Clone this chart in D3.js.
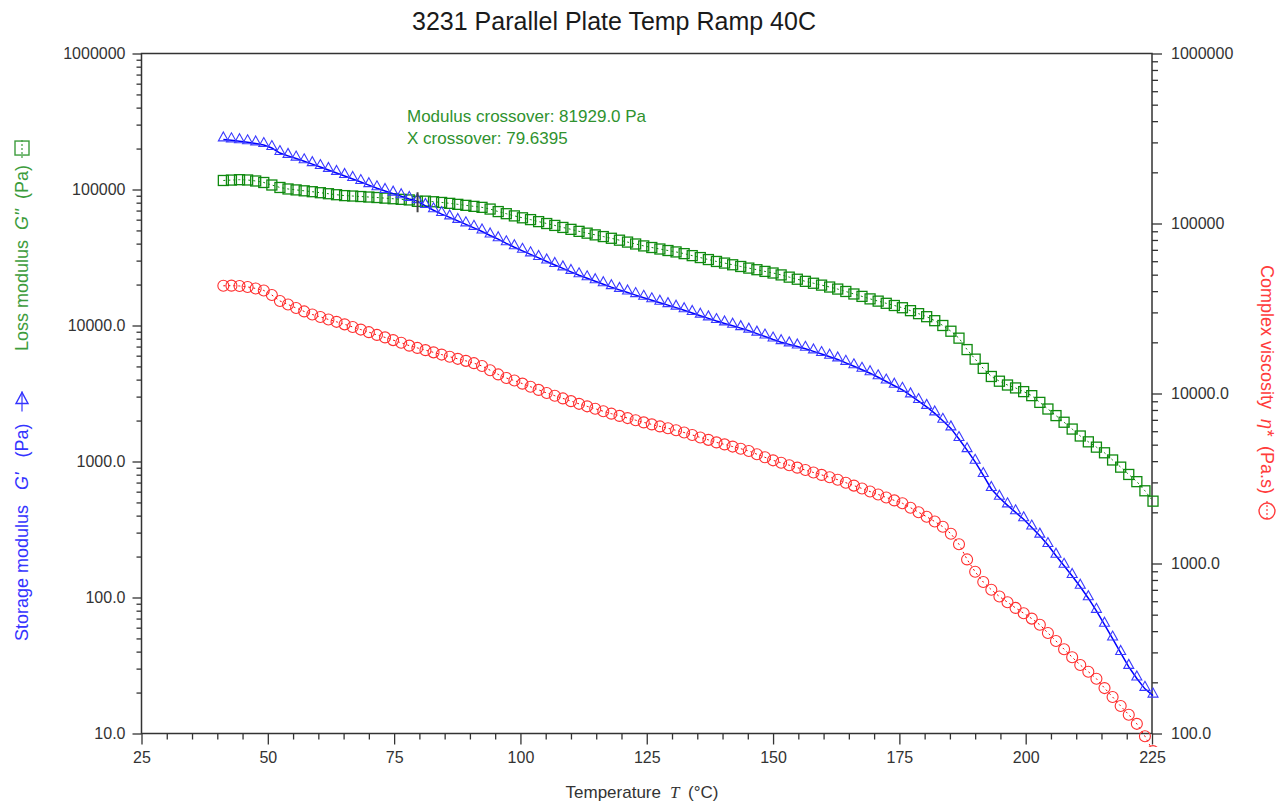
<!DOCTYPE html>
<html><head><meta charset="utf-8">
<script src="https://cdn.jsdelivr.net/npm/d3@7"></script>
<style>body{margin:0;background:#fff;} svg{display:block;} text{white-space:pre;}</style>
</head><body><svg id="c" width="1280" height="803"></svg>
<script>
const temperature = [41.2,42.8,44.4,46.0,47.6,49.2,50.8,52.4,54.0,55.6,57.2,58.8,60.4,62.0,63.6,65.2,66.8,68.4,70.0,71.6,
73.2,74.8,76.4,78.0,79.6,81.2,82.8,84.4,86.0,87.6,89.2,90.8,92.4,94.0,95.6,97.2,98.8,100.4,102.0,103.6,
105.2,106.8,108.4,110.0,111.6,113.2,114.8,116.4,118.0,119.6,121.2,122.8,124.4,126.0,127.6,129.2,130.8,132.4,134.0,135.6,
137.2,138.8,140.4,142.0,143.6,145.2,146.8,148.4,150.0,151.6,153.2,154.8,156.4,158.0,159.6,161.2,162.8,164.4,166.0,167.6,
169.2,170.8,172.4,174.0,175.6,177.2,178.8,180.4,182.0,183.6,185.2,186.8,188.4,190.0,191.6,193.2,194.8,196.4,198.0,199.6,
201.2,202.8,204.4,206.0,207.6,209.2,210.8,212.4,214.0,215.6,217.2,218.8,220.4,222.0,223.6,225.2];

const storageModulus = [233500,229900,226500,222300,218200,212300,201800,185300,176700,168800,
161200,153700,146300,139300,132400,125800,119500,113400,107600,102100,
97480,93270,89260,85240,82100,75680,70350,65970,62350,58750,
55450,52250,49140,45920,43120,40210,37640,35410,33360,31390,
29570,27860,26300,24780,23390,22230,21160,20110,19140,18280,
17490,16730,15990,15320,14710,14120,13530,12950,12370,11810,
11280,10790,10360,9966,9568,9171,8714,8294,7882,7541,
7266,7011,6742,6450,6171,5895,5631,5314,5015,4725,
4460,4161,3874,3607,3365,3064,2782,2521,2257,1993,
1752,1463,1212,995,795,628,542,476,423,376,
327,285,243,203,171,144,120,98.8,79.8,63.1,
49.9,39.1,30.9,25.4,21.3,19.0];

const lossModulus = [116500,117300,118100,117500,115500,112600,107900,103500,100900,99310,
97810,96340,94710,93110,91540,90160,89540,88780,88030,87300,
86400,85530,84670,83800,81800,82110,81280,80320,79100,77770,
76460,75160,73900,71800,68810,66400,63960,61930,60060,58050,
56210,54430,52600,50930,49230,47750,46380,45070,43780,42400,
41050,39750,38480,37450,36510,35590,34750,33760,32640,31590,
30540,29570,28770,27960,27160,26430,25720,24990,24320,23550,
22680,21890,21120,20450,19810,19180,18530,17790,17050,16370,
15690,15110,14560,14030,13510,12860,12220,11610,10850,10000,
9077,8072,6653,5659,4840,4218,3894,3651,3475,3264,
3049,2721,2432,2175,1944,1732,1540,1395,1275,1159,
1026,909,803,711,609,511];

const complexViscosity = [43000,43100,42900,42350,41500,40390,37940,35020,33390,31840,
30400,29150,28210,27270,26400,25510,24630,23770,22950,22110,
21380,20610,19870,19120,18540,17990,17460,16940,16450,15990,
15560,15080,14510,13710,12950,12330,11920,11430,10960,10500,
10070,9705,9356,9018,8694,8403,8135,7862,7609,7385,
7168,6966,6761,6580,6403,6240,6073,5894,5704,5513,
5337,5158,5020,4872,4735,4589,4395,4213,4044,3915,
3784,3663,3545,3431,3321,3215,3112,2988,2872,2761,
2650,2548,2446,2351,2261,2130,2002,1884,1765,1645,
1497,1298,1057,894,778,701,639,592,548,510,
474,436,390,350,313,281,253,231,210,185,
164,145,129,114,96.4,78.8];

const xTickValues = [25,50,75,100,125,150,175,200,225];
const leftTickValues = [10,100,1000,10000,100000,1000000];
const leftTickLabels = ["10.0","100.0","1000.0","10000.0","100000","1000000"];
const rightTickValues = [100,1000,10000,100000,1000000];
const rightTickLabels = ["100.0","1000.0","10000.0","100000","1000000"];
const crossoverModulus = 81929.0;
const crossoverTemperature = 79.6395;
const titleText = "3231 Parallel Plate Temp Ramp 40C";

const FONT = '"Liberation Sans", Arial, sans-serif';
const L = 141.5, R = 1152, T = 53.5, B = 733.5;
const svg = d3.select("#c").style("font-family", FONT);

const x = d3.scaleLinear().domain([25, 225]).range([L, R]);
const yL = d3.scaleLog().domain([10, 1e6]).range([B, T]);
const yR = d3.scaleLog().domain([100, 1e6]).range([B, T]);

function minorLog(lo, hi) {
  const out = [];
  for (let d = lo; d < hi; d *= 10) for (let k = 2; k <= 9; k++) out.push(d * k);
  return out;
}
const xMinor = d3.range(25, 226, 5).filter(v => v % 25 !== 0);

function styleAxis(g) {
  g.select(".domain").remove();
  g.selectAll(".tick line").attr("stroke", "#333").attr("stroke-width", 1.3);
  g.selectAll(".tick text").attr("fill", "#333").style("font-size", "16px").style("font-family", FONT);
}

// bottom axis
svg.append("g").attr("transform", `translate(0,${B})`)
  .call(d3.axisBottom(x).tickValues(xMinor).tickSize(6).tickFormat(""))
  .call(styleAxis);
svg.append("g").attr("transform", `translate(0,${B})`)
  .call(d3.axisBottom(x).tickValues(xTickValues).tickSize(11).tickPadding(7).tickFormat(d3.format("d")))
  .call(styleAxis);

// left axis
svg.append("g").attr("transform", `translate(${L},0)`)
  .call(d3.axisLeft(yL).tickValues(minorLog(10, 1e6)).tickSize(5).tickFormat(""))
  .call(styleAxis);
svg.append("g").attr("transform", `translate(${L},0)`)
  .call(d3.axisLeft(yL).tickValues(leftTickValues).tickSize(9).tickPadding(7)
    .tickFormat(d => leftTickLabels[leftTickValues.indexOf(d)]))
  .call(styleAxis);

// right axis
svg.append("g").attr("transform", `translate(${R},0)`)
  .call(d3.axisRight(yR).tickValues(minorLog(100, 1e6)).tickSize(6).tickFormat(""))
  .call(styleAxis);
svg.append("g").attr("transform", `translate(${R},0)`)
  .call(d3.axisRight(yR).tickValues(rightTickValues).tickSize(10).tickPadding(9)
    .tickFormat(d => rightTickLabels[rightTickValues.indexOf(d)]))
  .call(styleAxis);

// frame
svg.append("rect").attr("x", L).attr("y", T).attr("width", R - L).attr("height", B - T)
  .attr("fill", "none").attr("stroke", "#333").attr("stroke-width", 1.5);

// clip
svg.append("clipPath").attr("id", "clip").append("rect")
  .attr("x", L - 20).attr("y", T - 20).attr("width", R - L + 40).attr("height", 747 - T + 20);
const plot = svg.append("g").attr("clip-path", "url(#clip)");

const idx = d3.range(temperature.length);

// G'' (green)
const green = "#0f8a0f";
plot.append("path").datum(idx)
  .attr("d", d3.line().x(i => x(temperature[i])).y(i => yL(lossModulus[i])))
  .attr("fill", "none").attr("stroke", green).attr("stroke-width", 1).attr("stroke-dasharray", "2,3");
plot.selectAll(".sq").data(idx).enter().append("rect")
  .attr("x", i => x(temperature[i]) - 5).attr("y", i => yL(lossModulus[i]) - 5)
  .attr("width", 10).attr("height", 10)
  .attr("fill", "none").attr("stroke", green).attr("stroke-width", 1.3);

// G' (blue)
const blue = "#0000ff";
plot.append("path").datum(idx)
  .attr("d", d3.line().x(i => x(temperature[i])).y(i => yL(storageModulus[i])))
  .attr("fill", "none").attr("stroke", blue).attr("stroke-width", 1.5);
plot.selectAll(".tri").data(idx).enter().append("path")
  .attr("transform", i => `translate(${x(temperature[i])},${yL(storageModulus[i])})`)
  .attr("d", "M0,-7.5L5,1.5L-5,1.5Z")
  .attr("fill", "none").attr("stroke", "#3a3aff").attr("stroke-width", 1.1);

// eta* (red)
const red = "#ff0000";
plot.append("path").datum(idx)
  .attr("d", d3.line().x(i => x(temperature[i])).y(i => yR(complexViscosity[i])))
  .attr("fill", "none").attr("stroke", red).attr("stroke-width", 1).attr("stroke-dasharray", "2,3");
plot.selectAll(".circ").data(idx).enter().append("circle")
  .attr("cx", i => x(temperature[i])).attr("cy", i => yR(complexViscosity[i])).attr("r", 5.5)
  .attr("fill", "none").attr("stroke", "#ff3030").attr("stroke-width", 1.1);

// crossover marker
const cx = x(crossoverTemperature), cy = yL(crossoverModulus);
svg.append("line").attr("x1", cx).attr("x2", cx).attr("y1", cy - 9).attr("y2", cy + 11)
  .attr("stroke", "#444").attr("stroke-width", 2);

// annotation
const ann = svg.append("text").attr("x", 407).attr("fill", "#2f922f").style("font-size", "17px");
ann.append("tspan").attr("x", 407).attr("y", 122).text("Modulus crossover: " + crossoverModulus.toFixed(1) + " Pa");
ann.append("tspan").attr("x", 407).attr("y", 144).text("X crossover: " + crossoverTemperature.toFixed(4));

// title
svg.append("text").attr("x", 614).attr("y", 30).attr("text-anchor", "middle")
  .attr("fill", "#1a1a1a").style("font-size", "25px").text(titleText);

// x title
const xt = svg.append("text").attr("x", 642).attr("y", 798).attr("text-anchor", "middle")
  .attr("fill", "#333").style("font-size", "17px");
xt.append("tspan").text("Temperature ");
xt.append("tspan").style("font-family", '"Liberation Serif", serif').style("font-style", "italic").text(" T ");
xt.append("tspan").text(" (°C)");

// rotated axis titles with symbols
function axisTitle(tx, ty, rot, color, parts, symbol) {
  const g = svg.append("g").attr("transform", `translate(${tx},${ty}) rotate(${rot})`);
  const t = g.append("text").attr("x", 0).attr("y", 0).attr("fill", color).style("font-size", "18px");
  parts.forEach(p => {
    const s = t.append("tspan").text(p.t);
    if (p.i) s.style("font-style", "italic");
  });
  const len = t.node().getComputedTextLength();
  const sx = len + 12, sy = -6;
  g.append("line").attr("x1", sx - 10).attr("x2", sx + 10).attr("y1", sy).attr("y2", sy)
    .attr("stroke", color).attr("stroke-width", 1.2).attr("stroke-dasharray", symbol === "tri" ? null : "2,2");
  if (symbol === "tri") {
    g.append("path").attr("transform", `translate(${sx},${sy}) rotate(${-rot})`)
      .attr("d", "M0,-9L6,2L-6,2Z").attr("fill", "none").attr("stroke", color).attr("stroke-width", 1.4);
  } else if (symbol === "sq") {
    g.append("rect").attr("x", sx - 7).attr("y", sy - 7).attr("width", 14).attr("height", 14)
      .attr("fill", "none").attr("stroke", color).attr("stroke-width", 1.4);
  } else {
    g.append("circle").attr("cx", sx).attr("cy", sy).attr("r", 8)
      .attr("fill", "none").attr("stroke", color).attr("stroke-width", 1.4);
  }
}
axisTitle(28, 641, -90, "#3434ff",
  [{t: "Storage modulus   "}, {t: "G'", i: true}, {t: "   (Pa)  "}], "tri");
axisTitle(28, 351, -90, "#3c9c3c",
  [{t: "Loss modulus  "}, {t: "G''", i: true}, {t: "  (Pa) "}], "sq");
axisTitle(1261, 265, 90, "#ff3b3b",
  [{t: "Complex viscosity  "}, {t: "η*", i: true}, {t: "  (Pa.s) "}], "circ");
</script>
</body></html>
